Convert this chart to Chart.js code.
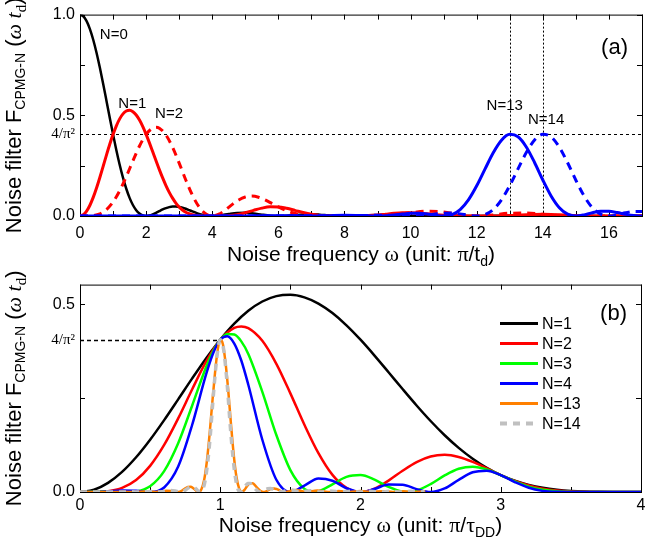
<!DOCTYPE html>
<html>
<head>
<meta charset="utf-8">
<script src="https://cdn.jsdelivr.net/npm/chart.js@4.4.0/dist/chart.umd.min.js"></script>
<style>
  html, body { margin: 0; padding: 0; background: #fff; }
  canvas { display: block; }
</style>
</head>
<body>
<canvas id="chartA" width="671" height="270"></canvas>
<canvas id="chartB" width="671" height="278"></canvas>
<script>
const SANS = '"Liberation Sans", Arial, sans-serif';
const SERIF = '"Liberation Serif", "Times New Roman", serif';

const refLevel = 0.4053; // 4/pi^2

// ---------- panel (a): frequency in units of pi/t_d ----------
const ticksXA = [0, 1, 2, 3, 4, 5, 6, 7, 8, 9, 10, 11, 12, 13, 14, 15, 16, 17];
const labelsXA = [0, 2, 4, 6, 8, 10, 12, 14, 16];
const ticksYA = [0, 0.25, 0.5, 0.75, 1];
const labelsYA = [0, refLevel, 0.5, 1];
const markersXA = [13, 14];

const xStep01 = [0, 0.1, 0.2, 0.3, 0.4, 0.5, 0.6, 0.7, 0.8, 0.9, 1, 1.1, 1.2, 1.3, 1.4, 1.5, 1.6, 1.7, 1.8, 1.9,
  2, 2.1, 2.2, 2.3, 2.4, 2.5, 2.6, 2.7, 2.8, 2.9, 3, 3.1, 3.2, 3.3, 3.4, 3.5, 3.6, 3.7, 3.8, 3.9, 4];

const xN0a = [...xStep01, 4.25, 4.5, 4.75, 5, 5.25, 5.5, 5.75, 6, 6.25, 6.5, 6.75, 7, 7.25, 7.5, 7.75, 8,
  8.5, 9, 9.5, 10, 10.5, 11, 11.5, 12, 12.5, 13, 13.5, 14, 14.5, 15, 15.5, 16, 16.5, 17];
const yN0a = [1, 0.9918, 0.9675, 0.9281, 0.8751, 0.8106, 0.7368, 0.6566, 0.5728, 0.4881, 0.4053, 0.3267, 0.2546,
  0.1904, 0.1353, 0.0901, 0.0547, 0.0289, 0.0119, 0.0028, 0, 0.0023, 0.0080, 0.0158, 0.0243, 0.0324, 0.0392,
  0.0441, 0.0468, 0.0470, 0.0450, 0.0411, 0.0358, 0.0295, 0.0229, 0.0165, 0.0108, 0.0061, 0.0027, 0.0007, 0,
  0.0033, 0.0100, 0.0153, 0.0162, 0.0126, 0.0067, 0.0018, 0, 0.0015, 0.0048, 0.0076, 0.0083, 0.0066, 0.0036,
  0.0010, 0, 0.0028, 0.0050, 0.0022, 0, 0.0018, 0.0034, 0.0015, 0, 0.0013, 0.0024, 0.0011, 0, 0.0010, 0.0018,
  0.0008, 0, 0.0007, 0.0014];

const xN1a = [...xStep01, 4.25, 4.5, 4.75, 5, 5.25, 5.5, 5.75, 6, 6.25, 6.5, 6.75, 7, 7.25, 7.5, 8, 8.5, 9,
  9.25, 9.5, 9.75, 10, 10.25, 10.5, 10.75, 11, 11.5, 12, 12.5, 13, 13.25, 13.5, 13.75, 14, 14.25, 14.5, 14.75,
  15, 15.5, 16, 16.5, 17];
const yN1a = [0, 0.0061, 0.0243, 0.0535, 0.0924, 0.1391, 0.1913, 0.2466, 0.3024, 0.3561, 0.4053, 0.4479, 0.4823,
  0.5070, 0.5213, 0.5249, 0.5181, 0.5015, 0.4762, 0.4436, 0.4053, 0.3631, 0.3188, 0.2740, 0.2303, 0.1890, 0.1511,
  0.1175, 0.0886, 0.0644, 0.0450, 0.0300, 0.0189, 0.0111, 0.0060, 0.0028, 0.0011, 0.0004, 0.0001, 0, 0,
  0.0001, 0.0017, 0.0068, 0.0162, 0.0281, 0.0390, 0.0454, 0.0450, 0.0384, 0.0280, 0.0170, 0.0083, 0.0029,
  0.0006, 0, 0.0005, 0.0050, 0.0091, 0.0131, 0.0158, 0.0162, 0.0143, 0.0107, 0.0067, 0.0034, 0.0003, 0, 0.0002,
  0.0024, 0.0044, 0.0065, 0.0079, 0.0083, 0.0074, 0.0056, 0.0036, 0.0018, 0.0001, 0, 0.0001, 0.0014];

const xN2a = [0, 0.2, 0.4, 0.6, 0.8, 1, 1.2, 1.4, 1.6, 1.8, 2, 2.2, 2.3, 2.4, 2.6, 2.8, 3, 3.2, 3.4, 3.6, 3.8, 4,
  4.2, 4.4, 4.6, 4.8, 5, 5.2, 5.4, 5.6, 5.8, 6, 6.2, 6.4, 6.6, 6.8, 7, 7.2, 7.4, 7.6, 7.8, 8,
  8.5, 9, 9.5, 10, 10.5, 11, 11.5, 12, 12.5, 13, 13.5, 14, 14.5, 15, 16, 17];
const yN2a = [0, 0.0002, 0.0023, 0.0110, 0.0319, 0.0696, 0.1252, 0.1958, 0.2735, 0.3474, 0.4053, 0.4369, 0.4408,
  0.4362, 0.4025, 0.3412, 0.2625, 0.1790, 0.1034, 0.0455, 0.0109, 0, 0.0089, 0.0304, 0.0565, 0.0796, 0.0945,
  0.0989, 0.0933, 0.0801, 0.0628, 0.0450, 0.0293, 0.0171, 0.0088, 0.0039, 0.0014, 0.0004, 0.0001, 0, 0, 0,
  0, 0.0009, 0.0058, 0.0162, 0.0240, 0.0195, 0.0066, 0, 0.0056, 0.0140, 0.0145, 0.0083, 0.0025, 0.0003, 0, 0.0002];

const xN13a = [0, 2, 3, 4, 5, 6, 6.5, 7, 7.5, 8, 8.5, 9, 9.25, 9.5, 9.75, 10, 10.25, 10.5, 10.75, 11, 11.25, 11.5,
  11.75, 12, 12.25, 12.5, 12.75, 13, 13.25, 13.5, 13.75, 14, 14.25, 14.5, 14.75, 15, 15.25, 15.5, 15.75, 16,
  16.25, 16.5, 16.75, 17];
const yN13a = [0, 0.0001, 0, 0.0004, 0, 0.0013, 0.0008, 0, 0.0014, 0.0036, 0.0024, 0, 0.0011, 0.0046, 0.0095,
  0.0134, 0.0140, 0.0102, 0.0038, 0, 0.0066, 0.0317, 0.0799, 0.1498, 0.2327, 0.3141, 0.3762, 0.4053, 0.3935,
  0.3429, 0.2657, 0.1787, 0.0996, 0.0413, 0.0091, 0, 0.0057, 0.0160, 0.0231, 0.0231, 0.0171, 0.0088, 0.0023, 0];

const xN14a = [0, 1, 2, 3, 4, 5, 6, 6.5, 7, 7.5, 8, 8.5, 9, 9.5, 10, 10.25, 10.5, 10.75, 11, 11.25, 11.5, 11.75,
  12, 12.25, 12.5, 12.75, 13, 13.25, 13.5, 13.75, 14, 14.25, 14.5, 14.75, 15, 15.25, 15.5, 15.75, 16, 16.25,
  16.5, 16.75, 17];
const yN14a = [0, 0, 0, 0.0002, 0, 0.0005, 0, 0.0006, 0.0014, 0.0009, 0, 0.0015, 0.0039, 0.0026, 0, 0.0012,
  0.0048, 0.0097, 0.0138, 0.0144, 0.0105, 0.0039, 0, 0.0067, 0.0320, 0.0806, 0.1509, 0.2340, 0.3151, 0.3770,
  0.4053, 0.3927, 0.3419, 0.2645, 0.1777, 0.0989, 0.0410, 0.0090, 0, 0.0056, 0.0158, 0.0227, 0.0228];

const notesA = ['N=0', 'N=1', 'N=2', 'N=13', 'N=14'];
const notesXA = [0.6, 1.16, 2.27, 12.3, 13.55];
const notesYA = [0.9, 0.555, 0.507, 0.545, 0.476];

// ---------- panel (b): frequency in units of pi/tau_DD ----------
const ticksXB = [0, 0.5, 1, 1.5, 2, 2.5, 3, 3.5, 4];
const labelsXB = [0, 1, 2, 3, 4];
const ticksYB = [0, 0.25, 0.5];
const labelsYB = [0, refLevel, 0.5];

const xN1b = [...xStep01];
const yN1b = [0, 0.0061, 0.0243, 0.0535, 0.0924, 0.1391, 0.1913, 0.2466, 0.3024, 0.3561, 0.4053, 0.4479, 0.4823,
  0.5070, 0.5213, 0.5249, 0.5181, 0.5015, 0.4762, 0.4436, 0.4053, 0.3631, 0.3188, 0.2740, 0.2303, 0.1890, 0.1511,
  0.1175, 0.0886, 0.0644, 0.0450, 0.0300, 0.0189, 0.0111, 0.0060, 0.0028, 0.0011, 0.0004, 0.0001, 0, 0];

const xN2b = [0, 0.1, 0.2, 0.3, 0.4, 0.5, 0.6, 0.7, 0.8, 0.9, 1, 1.1, 1.15, 1.2, 1.3, 1.4, 1.5, 1.6, 1.7, 1.8, 1.9,
  2, 2.1, 2.2, 2.3, 2.4, 2.5, 2.6, 2.7, 2.8, 2.9, 3, 3.1, 3.2, 3.3, 3.4, 3.5, 3.6, 3.7, 3.8, 3.9, 4];
const yN2b = [0, 0.0002, 0.0023, 0.0110, 0.0319, 0.0696, 0.1252, 0.1958, 0.2735, 0.3474, 0.4053, 0.4369, 0.4408,
  0.4362, 0.4025, 0.3412, 0.2625, 0.1790, 0.1034, 0.0455, 0.0109, 0, 0.0089, 0.0304, 0.0565, 0.0796, 0.0945,
  0.0989, 0.0933, 0.0801, 0.0628, 0.0450, 0.0293, 0.0171, 0.0088, 0.0039, 0.0014, 0.0004, 0.0001, 0, 0, 0];

const xN3b = [0, 0.1, 0.2, 0.3, 0.333, 0.4, 0.5, 0.6, 0.7, 0.8, 0.9, 0.95, 1, 1.05, 1.1, 1.15, 1.2, 1.3, 1.4, 1.5,
  1.6, 1.667, 1.7, 1.8, 1.9, 2, 2.1, 2.2, 2.3, 2.333, 2.4, 2.5, 2.6, 2.7, 2.8, 2.9, 3, 3.1, 3.2, 3.3, 3.4, 3.5,
  3.6, 3.7, 3.8, 3.9, 4];
const yN3b = [0, 0.0006, 0.0010, 0.0002, 0, 0.0015, 0.0155, 0.0556, 0.1297, 0.2303, 0.3332, 0.3751, 0.4053,
  0.4206, 0.4191, 0.4009, 0.3673, 0.2666, 0.1516, 0.0583, 0.0084, 0, 0.0017, 0.0202, 0.0401, 0.0450, 0.0328,
  0.0135, 0.0009, 0, 0.0037, 0.0210, 0.0440, 0.0618, 0.0675, 0.0603, 0.0450, 0.0281, 0.0144, 0.0058, 0.0017,
  0.0003, 0, 0, 0, 0, 0];

const xN4b = [0, 0.1, 0.2, 0.3, 0.4, 0.5, 0.6, 0.7, 0.8, 0.9, 0.95, 1, 1.05, 1.1, 1.15, 1.2, 1.3, 1.4, 1.5, 1.6,
  1.7, 1.8, 1.9, 2, 2.1, 2.2, 2.3, 2.4, 2.5, 2.6, 2.7, 2.8, 2.9, 3, 3.1, 3.2, 3.3, 3.4, 3.5, 3.6, 3.7, 3.8, 3.9, 4];
const yN4b = [0, 0.0001, 0.0015, 0.0038, 0.0031, 0, 0.0120, 0.0676, 0.1790, 0.3142, 0.3698, 0.4053, 0.4145,
  0.3952, 0.3500, 0.2855, 0.1391, 0.0326, 0, 0.0171, 0.0357, 0.0298, 0.0099, 0, 0.0080, 0.0199, 0.0195, 0.0076,
  0, 0.0094, 0.0322, 0.0524, 0.0568, 0.0450, 0.0265, 0.0112, 0.0030, 0.0004, 0, 0, 0, 0, 0, 0];

const xN13b = [0, 0.154, 0.231, 0.308, 0.385, 0.462, 0.5, 0.538, 0.577, 0.615, 0.654, 0.692, 0.712, 0.731, 0.75,
  0.769, 0.788, 0.808, 0.827, 0.846, 0.865, 0.885, 0.904, 0.923, 0.942, 0.962, 0.981, 1, 1.019, 1.038, 1.058,
  1.077, 1.096, 1.115, 1.135, 1.154, 1.173, 1.192, 1.212, 1.231, 1.25, 1.269, 1.288, 1.308, 1.327, 1.346, 1.365,
  1.385, 1.404, 1.423, 1.442, 1.462, 1.538, 1.615, 1.692, 1.769, 1.846, 1.923, 2, 2.077, 2.154, 2.231, 2.308,
  2.385, 2.462];
const yN13b = [0, 0.0001, 0, 0.0004, 0, 0.0013, 0.0008, 0, 0.0014, 0.0036, 0.0024, 0, 0.0011, 0.0046, 0.0095,
  0.0134, 0.0140, 0.0102, 0.0038, 0, 0.0066, 0.0317, 0.0799, 0.1498, 0.2327, 0.3141, 0.3762, 0.4053, 0.3935,
  0.3429, 0.2657, 0.1787, 0.0996, 0.0413, 0.0091, 0, 0.0057, 0.0160, 0.0231, 0.0231, 0.0171, 0.0088, 0.0023, 0,
  0.0018, 0.0057, 0.0089, 0.0095, 0.0075, 0.0041, 0.0011, 0, 0.0055, 0, 0.0038, 0, 0.0029, 0, 0.0024, 0,
  0.0021, 0, 0.0020, 0, 0.0022];

const xN14b = [0, 0.071, 0.214, 0.286, 0.357, 0.429, 0.464, 0.5, 0.536, 0.571, 0.607, 0.643, 0.679, 0.714, 0.732,
  0.75, 0.768, 0.786, 0.804, 0.821, 0.839, 0.857, 0.875, 0.893, 0.911, 0.929, 0.946, 0.964, 0.982, 1, 1.018,
  1.036, 1.054, 1.071, 1.089, 1.107, 1.125, 1.143, 1.161, 1.179, 1.196, 1.214, 1.232, 1.25, 1.268, 1.286, 1.304,
  1.321, 1.339, 1.357, 1.393, 1.429, 1.5, 1.571, 1.643, 1.714, 1.786, 1.857, 1.929, 2, 2.071, 2.143, 2.214,
  2.286, 2.357, 2.429, 2.457];
const yN14b = [0, 0, 0.0002, 0, 0.0005, 0, 0.0006, 0.0014, 0.0009, 0, 0.0015, 0.0039, 0.0026, 0, 0.0012, 0.0048,
  0.0097, 0.0138, 0.0144, 0.0105, 0.0039, 0, 0.0067, 0.0320, 0.0806, 0.1509, 0.2340, 0.3151, 0.3770, 0.4053,
  0.3927, 0.3419, 0.2645, 0.1777, 0.0989, 0.0410, 0.0090, 0, 0.0056, 0.0158, 0.0227, 0.0228, 0.0168, 0.0086,
  0.0022, 0, 0.0018, 0.0056, 0.0087, 0.0093, 0.0040, 0, 0.0054, 0, 0.0036, 0, 0.0028, 0, 0.0022, 0, 0.0019, 0,
  0.0018, 0, 0.0018, 0, 0.0007];

// ---------- helpers ----------
function pts(xs, ys) {
  return xs.map((x, i) => ({ x: x, y: ys[i] }));
}

function line(label, xs, ys, color, width, dash, order) {
  return {
    label: label,
    data: pts(xs, ys),
    borderColor: color,
    borderWidth: width,
    borderDash: dash || [],
    pointRadius: 0,
    fill: false,
    cubicInterpolationMode: 'monotone',
    order: order
  };
}

// draws a string made of pieces with different fonts / offsets (subscripts)
function drawRich(ctx, parts, x, y, rotate) {
  ctx.save();
  ctx.translate(x, y);
  if (rotate) ctx.rotate(-Math.PI / 2);
  let w = 0;
  parts.forEach(p => { ctx.font = p.font; w += ctx.measureText(p.text).width; });
  let cx = -w / 2;
  ctx.fillStyle = '#000';
  ctx.textBaseline = 'alphabetic';
  ctx.textAlign = 'left';
  parts.forEach(p => {
    ctx.font = p.font;
    ctx.fillText(p.text, cx, p.dy || 0);
    cx += ctx.measureText(p.text).width;
  });
  ctx.restore();
}

const yTitle = [
  { text: 'Noise filter F', font: '22px ' + SANS },
  { text: 'CPMG-N', font: '14px ' + SANS, dy: 4 },
  { text: ' (', font: '22px ' + SANS },
  { text: 'ω', font: 'italic 22px ' + SERIF },
  { text: ' t', font: 'italic 22px ' + SERIF },
  { text: 'd', font: '15px ' + SERIF, dy: 5 },
  { text: ')', font: '22px ' + SANS }
];
const xTitleA = [
  { text: 'Noise frequency ', font: '21px ' + SANS },
  { text: 'ω', font: '22px ' + SERIF },
  { text: ' (unit: ', font: '21px ' + SANS },
  { text: 'π', font: '22px ' + SERIF },
  { text: '/t', font: '21px ' + SANS },
  { text: 'd', font: '14px ' + SANS, dy: 5 },
  { text: ')', font: '21px ' + SANS }
];
const xTitleB = [
  { text: 'Noise frequency ', font: '21px ' + SANS },
  { text: 'ω', font: '22px ' + SERIF },
  { text: ' (unit: ', font: '21px ' + SANS },
  { text: 'π', font: '22px ' + SERIF },
  { text: '/', font: '21px ' + SANS },
  { text: 'τ', font: '22px ' + SERIF },
  { text: 'DD', font: '14px ' + SANS, dy: 5 },
  { text: ')', font: '21px ' + SANS }
];

// box with inward ticks on all sides, guide lines, titles
function framePlugin(o) {
  return {
    id: 'frame',
    beforeDatasetsDraw(chart) {
      const { ctx, chartArea: a, scales: { x, y } } = chart;
      ctx.save();
      ctx.strokeStyle = '#000';
      ctx.lineWidth = 1;
      o.guides.forEach(g => {
        ctx.setLineDash(g.dash);
        ctx.lineWidth = g.width;
        ctx.beginPath();
        if (g.h !== undefined) {
          const py = Math.round(y.getPixelForValue(g.h)) + 0.5;
          ctx.moveTo(x.getPixelForValue(g.from), py);
          ctx.lineTo(x.getPixelForValue(g.to), py);
        } else {
          const px = Math.round(x.getPixelForValue(g.v)) + 0.5;
          ctx.moveTo(px, a.top);
          ctx.lineTo(px, a.bottom);
        }
        ctx.stroke();
      });
      ctx.setLineDash([]);
      ctx.lineWidth = 1;
      ctx.beginPath();
      o.xTicks.forEach(v => {
        const px = Math.round(x.getPixelForValue(v)) + 0.5;
        ctx.moveTo(px, a.bottom); ctx.lineTo(px, a.bottom - 5);
        ctx.moveTo(px, a.top); ctx.lineTo(px, a.top + 5);
      });
      o.yTicks.forEach(v => {
        const py = Math.round(y.getPixelForValue(v)) + 0.5;
        ctx.moveTo(a.left, py); ctx.lineTo(a.left + 5, py);
        ctx.moveTo(a.right, py); ctx.lineTo(a.right - 5, py);
      });
      ctx.stroke();
      ctx.strokeRect(a.left + 0.5, a.top + 0.5, a.right - a.left, a.bottom - a.top);
      ctx.restore();
    },
    afterDraw(chart) {
      const { ctx, chartArea: a, scales: { x, y } } = chart;
      drawRich(ctx, yTitle, 21, (a.top + a.bottom) / 2, true);
      drawRich(ctx, o.xTitle, (a.left + a.right) / 2, o.xTitleY, false);
      ctx.save();
      ctx.fillStyle = '#000';
      ctx.font = '22px ' + SANS;
      ctx.textAlign = 'right';
      ctx.textBaseline = 'middle';
      ctx.fillText(o.panel, a.right - 14, a.top + o.panelDy);
      ctx.font = '15px ' + SANS;
      ctx.textAlign = 'left';
      (o.notes || []).forEach((t, i) => {
        ctx.fillText(t, x.getPixelForValue(o.notesX[i]), y.getPixelForValue(o.notesY[i]));
      });
      if (o.legend) {
        ctx.font = '16px ' + SANS;
        chart.data.datasets.forEach((ds, i) => {
          const ly = a.top + 39 + i * 20;
          ctx.strokeStyle = ds.borderColor;
          ctx.lineWidth = ds.borderDash.length ? 4 : 3;
          ctx.setLineDash(ds.borderDash.length ? [7, 6] : []);
          ctx.beginPath();
          ctx.moveTo(a.left + 420, ly);
          ctx.lineTo(a.left + 458, ly);
          ctx.stroke();
          ctx.fillText(ds.label, a.left + 462, ly + 1);
        });
      }
      ctx.restore();
    }
  };
}

function xAxis(min, max, labels, pad, h) {
  return {
    type: 'linear', min: min, max: max,
    grid: { display: false, drawTicks: false },
    border: { display: false },
    afterBuildTicks: s => { s.ticks = labels.map(v => ({ value: v })); },
    afterFit: s => { s.height = h; },
    ticks: {
      padding: pad, color: '#000', autoSkip: false, maxRotation: 0,
      font: { family: SANS, size: 16 },
      callback: v => String(v)
    }
  };
}

function yAxis(min, max, labels) {
  return {
    type: 'linear', min: min, max: max,
    grid: { display: false, drawTicks: false },
    border: { display: false },
    afterBuildTicks: s => { s.ticks = labels.map(v => ({ value: v })); },
    afterFit: s => { s.width = 80; },
    ticks: {
      padding: 5, color: '#000', autoSkip: false,
      font: c => (c.tick && c.tick.value === refLevel) ? { family: SERIF, size: 15 } : { family: SANS, size: 16 },
      callback: v => v === refLevel ? '4/π²' : v.toFixed(1)
    }
  };
}

const common = {
  responsive: false,
  animation: false,
  devicePixelRatio: 1,
  events: [],
  plugins: { legend: { display: false }, tooltip: { enabled: false } }
};

new Chart(document.getElementById('chartA').getContext('2d'), {
  type: 'line',
  data: {
    datasets: [
      line('N=0', xN0a, yN0a, '#000000', 2.5, null, 5),
      line('N=1', xN1a, yN1a, '#ff0000', 3, null, 4),
      line('N=2', xN2a, yN2a, '#ff0000', 3, [8, 6], 3),
      line('N=13', xN13a, yN13a, '#0000ff', 3, null, 2),
      line('N=14', xN14a, yN14a, '#0000ff', 3, [8, 6], 1)
    ]
  },
  options: Object.assign({}, common, {
    layout: { padding: { top: 8, right: 29, left: 0, bottom: 0 } },
    scales: {
      x: xAxis(0, 17, labelsXA, 8, 54),
      y: yAxis(0, 1, labelsYA)
    }
  }),
  plugins: [framePlugin({
    xTicks: ticksXA, yTicks: ticksYA,
    guides: [
      { h: refLevel, from: 0, to: 17, dash: [3, 3], width: 1 },
      { v: markersXA[0], dash: [2, 2], width: 1 },
      { v: markersXA[1], dash: [2, 2], width: 1 }
    ],
    xTitle: xTitleA, xTitleY: 261,
    panel: '(a)', panelDy: 33,
    notes: notesA, notesX: notesXA, notesY: notesYA
  })]
});

new Chart(document.getElementById('chartB').getContext('2d'), {
  type: 'line',
  data: {
    datasets: [
      line('N=1', xN1b, yN1b, '#000000', 2.5, null, 6),
      line('N=2', xN2b, yN2b, '#ff0000', 2.5, null, 5),
      line('N=3', xN3b, yN3b, '#00ff00', 2.5, null, 4),
      line('N=4', xN4b, yN4b, '#0000ff', 2.5, null, 3),
      line('N=13', xN13b, yN13b, '#ff8000', 2.5, null, 2),
      line('N=14', xN14b, yN14b, '#c0c0c0', 3.5, [7, 6], 1)
    ]
  },
  options: Object.assign({}, common, {
    layout: { padding: { top: 14, right: 30, left: 0, bottom: 0 } },
    scales: {
      x: xAxis(0, 4, labelsXB, 4, 56),
      y: yAxis(0, 0.552, labelsYB)
    }
  }),
  plugins: [framePlugin({
    xTicks: ticksXB, yTicks: ticksYB,
    guides: [
      { h: refLevel, from: 0, to: 1, dash: [4, 3], width: 1.5 }
    ],
    xTitle: xTitleB, xTitleY: 262,
    panel: '(b)', panelDy: 29,
    legend: true
  })]
});
</script>
</body>
</html>
